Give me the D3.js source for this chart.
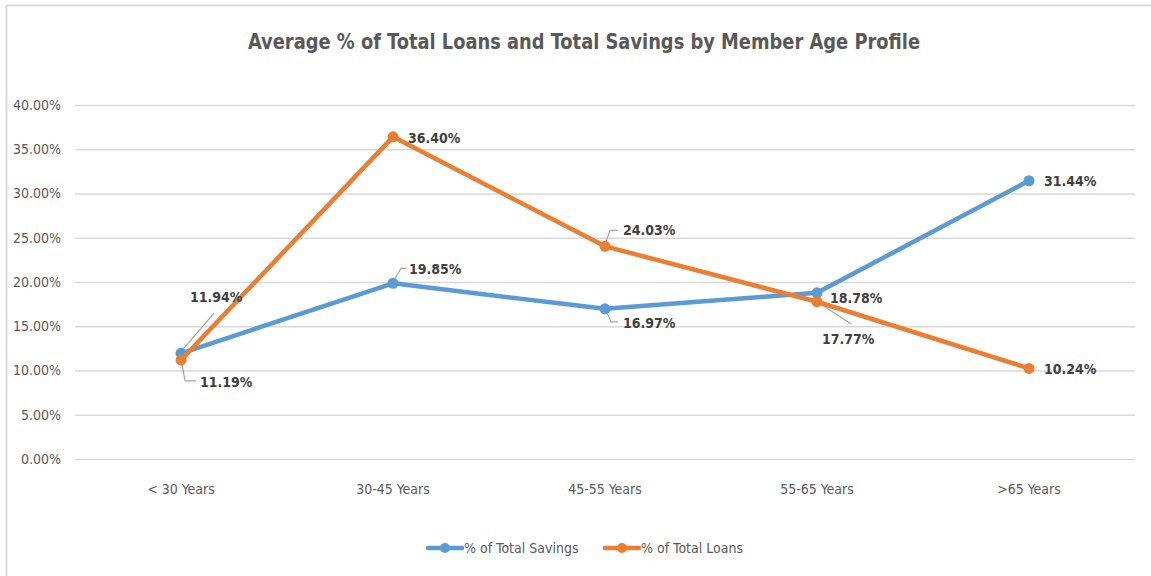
<!DOCTYPE html>
<html><head><meta charset="utf-8">
<script src="https://cdn.jsdelivr.net/npm/d3@7"></script>
<style>
html,body{margin:0;padding:0;background:#fff;}
svg{display:block;}
text{font-family:"Liberation Sans Narrow","DejaVu Sans Condensed",Roboto,sans-serif;}
</style></head>
<body>
<svg id="chart" width="1151" height="576"></svg>
<script>
const categories = ["< 30 Years","30-45 Years","45-55 Years","55-65 Years",">65 Years"];
const savings = [11.94,19.85,16.97,18.78,31.44];
const loans = [11.19,36.40,24.03,17.77,10.24];
const yTicks = [0,5,10,15,20,25,30,35,40];
const seriesNames = ["% of Total Savings","% of Total Loans"];
const colors = ["#5B9BD5","#ED7D31"];

// label layout: [dx, dy(baseline), leader points relative to point or null]
const savingsLabelLayout = [
  {dx:9, dy:-51, leader:[[1,-3],[33,-40]]},
  {dx:16, dy:-9, leader:[[2,-5],[8,-15],[13,-15]]},
  {dx:18, dy:19, leader:[[2,4],[6,13],[13,13]]},
  {dx:13, dy:10, leader:null},
  {dx:15, dy:5, leader:null}
];
const loansLabelLayout = [
  {dx:19, dy:27, leader:[[1,4],[4,21],[15,21]]},
  {dx:15, dy:6, leader:null},
  {dx:18, dy:-11, leader:[[1,-4],[5,-16],[13,-16]]},
  {dx:5, dy:42, leader:[[3,2],[34,22]]},
  {dx:15, dy:6, leader:null}
];

const svg = d3.select("#chart");
// frame
svg.append("line").attr("x1",6.5).attr("x2",6.5).attr("y1",5).attr("y2",576).attr("stroke","#d9d9d9").attr("stroke-width",2);
svg.append("line").attr("x1",6).attr("x2",1151).attr("y1",5.5).attr("y2",5.5).attr("stroke","#d9d9d9").attr("stroke-width",2);

const x = d3.scaleBand().domain(categories).range([75,1135]);
const y = d3.scaleLinear().domain([0,40]).range([459,105]);

svg.append("text").attr("x",584).attr("y",49).attr("text-anchor","middle")
  .attr("font-size",22).attr("font-weight","bold").attr("fill","#595959")
  .attr("textLength",672).attr("lengthAdjust","spacingAndGlyphs")
  .text("Average % of Total Loans and Total Savings by Member Age Profile");

// grid
const gy = svg.append("g").attr("transform","translate(75,0)")
  .call(d3.axisLeft(y).tickValues(yTicks).tickSize(-1060).tickFormat(d=>d.toFixed(2)+"%"));
gy.select(".domain").remove();
gy.selectAll(".tick line").attr("stroke","#d9d9d9").attr("stroke-width",1.5);
gy.selectAll(".tick text").attr("x",-14).attr("font-size",14).attr("fill","#595959");

const gx = svg.append("g").attr("transform","translate(0,459)")
  .call(d3.axisBottom(x).tickSize(0).tickPadding(25));
gx.select(".domain").remove();
gx.selectAll(".tick text").attr("font-size",14).attr("fill","#595959");

const line = d3.line().x((d,i)=>x(categories[i])+x.bandwidth()/2).y(d=>y(d));
const all = [savings, loans];
const layouts = [savingsLabelLayout, loansLabelLayout];

// leaders first
all.forEach((vals,s)=>{
  vals.forEach((v,i)=>{
    const L = layouts[s][i];
    if(!L.leader) return;
    const px = x(categories[i])+x.bandwidth()/2, py = y(v);
    svg.append("polyline").attr("points", L.leader.map(p=>[px+p[0],py+p[1]].join(",")).join(" "))
      .attr("fill","none").attr("stroke","#a6a6a6").attr("stroke-width",1.2);
  });
});

all.forEach((vals,s)=>{
  svg.append("path").datum(vals).attr("d",line).attr("fill","none")
    .attr("stroke",colors[s]).attr("stroke-width",4.5).attr("stroke-linejoin","round").attr("stroke-linecap","round");
  svg.selectAll(null).data(vals).enter().append("circle")
    .attr("cx",(d,i)=>x(categories[i])+x.bandwidth()/2).attr("cy",d=>y(d)).attr("r",5.5).attr("fill",colors[s]);
});

all.forEach((vals,s)=>{
  svg.selectAll(null).data(vals).enter().append("text")
    .attr("x",(d,i)=>x(categories[i])+x.bandwidth()/2+layouts[s][i].dx)
    .attr("y",(d,i)=>y(d)+layouts[s][i].dy)
    .attr("font-size",14).attr("font-weight","bold").attr("fill","#404040")
    .text(d=>d.toFixed(2)+"%");
});

// legend
const legX = [428,605];
seriesNames.forEach((n,s)=>{
  const g = svg.append("g");
  g.append("line").attr("x1",legX[s]).attr("x2",legX[s]+34).attr("y1",548).attr("y2",548)
    .attr("stroke",colors[s]).attr("stroke-width",4.5).attr("stroke-linecap","round");
  g.append("circle").attr("cx",legX[s]+17).attr("cy",548).attr("r",5).attr("fill",colors[s]);
  g.append("text").attr("x",legX[s]+36).attr("y",553).attr("font-size",14).attr("fill","#595959").text(n);
});
</script>
</body></html>
